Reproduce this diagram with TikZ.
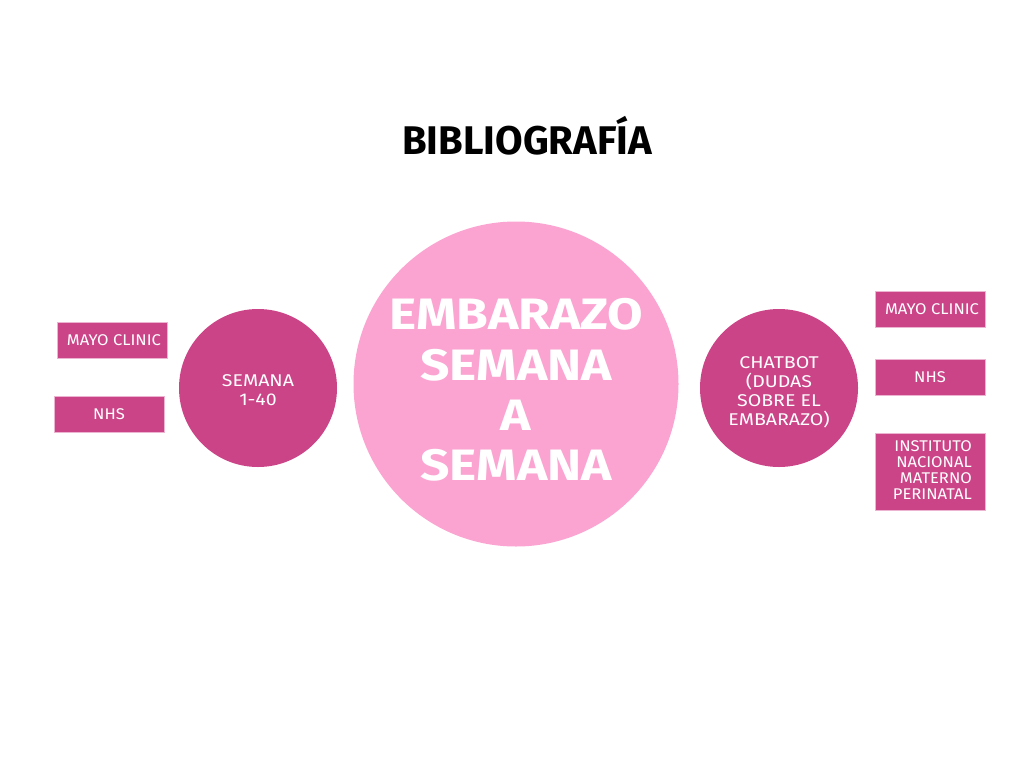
\documentclass[tikz,border=0pt]{standalone}
\usepackage{fontspec}
\setmainfont{Fira Sans}
\newfontfamily\widemain[FakeStretch=1.17]{Fira Sans}
\newfontfamily\widecirc[FakeStretch=1.15]{Fira Sans}
\newfontfamily\widebox[FakeStretch=1.07]{Fira Sans}
\definecolor{dpink}{RGB}{204,68,136}
\definecolor{lpink}{RGB}{251,163,209}
\definecolor{edgepink}{RGB}{236,180,208}
\begin{document}
\begin{tikzpicture}[x=1pt,y=-1pt,
  smallcirc/.style={circle,fill=dpink,minimum size=158pt,inner sep=0pt},
  circtext/.style={text=white,align=center,font=\widecirc\fontsize{17}{18.5}\selectfont},
  srcbox/.style={rectangle,fill=dpink,draw=edgepink,line width=0.8pt,minimum width=110pt,minimum height=36pt,inner sep=0pt,text=white,align=center,font=\widebox\fontsize{15.5}{16}\selectfont},
]
\useasboundingbox (0,0) rectangle (1024,768);
\node (title) at (527,136) {\fontsize{40}{44}\selectfont\bfseries BIBLIOGRAFÍA};
\node[circle,fill=lpink,minimum size=325pt,inner sep=0pt] (main) at (516,384) {};
\node[text=white,align=center,font=\widemain\fontsize{44}{50.2}\selectfont\bfseries] (maintext) at (516,390) {EMBARAZO\\SEMANA\\A\\SEMANA};
\node[smallcirc] (sem) at (258,388) {};
\node[circtext] (semtext) at (258,390) {SEMANA\\1-40};
\node[smallcirc] (chat) at (779,388) {};
\node[circtext,font=\widecirc\fontsize{17}{19}\selectfont] (chattext) at (779,392) {CHATBOT\\(DUDAS\\SOBRE EL\\EMBARAZO)};
\node[srcbox] (lmayo) at (112,340) {\hspace*{4pt}MAYO CLINIC};
\node[srcbox] (lnhs) at (109,414) {NHS};
\node[srcbox] (rmayo) at (930,309) {\hspace*{4pt}MAYO CLINIC};
\node[srcbox] (rnhs) at (930,377) {NHS};
\node[srcbox,minimum height=77pt] (rinst) at (930,471.5) {};
\node[text=white,align=right,anchor=east,inner sep=0pt,font=\widebox\fontsize{15.5}{16}\selectfont] (insttext) at (972,470.5) {INSTITUTO\\NACIONAL\\MATERNO\\PERINATAL};
\end{tikzpicture}
\end{document}
